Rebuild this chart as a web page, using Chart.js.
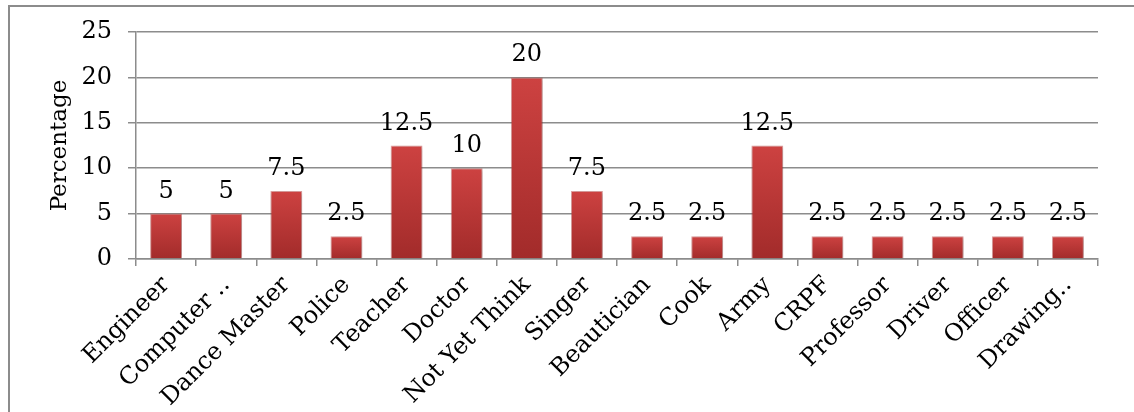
<!DOCTYPE html>
<html>
<head>
<meta charset="utf-8">
<script src="https://cdn.jsdelivr.net/npm/chart.js@4"></script>
<style>
  html, body { margin: 0; padding: 0; background: #fff; }
  #wrap { position: relative; width: 1134px; height: 412px; overflow: hidden; }
  #frame { position: absolute; left: 8px; top: 5px; width: 1200px; height: 500px;
           border: 2px solid #8c8c8c; box-sizing: border-box; }
  canvas { position: absolute; left: 0; top: 0; }
</style>
</head>
<body>
<div id="wrap">
  <div id="frame"></div>
  <canvas id="c" width="1134" height="412"></canvas>
</div>
<script>
// Aspirations, share of respondents (%)
const categories = ["Engineer", "Computer ..", "Dance Master", "Police", "Teacher", "Doctor",
  "Not Yet Think", "Singer", "Beautician", "Cook", "Army", "CRPF", "Professor", "Driver",
  "Officer", "Drawing.."];
const percentages = [5, 5, 7.5, 2.5, 12.5, 10, 20, 7.5, 2.5, 2.5, 12.5, 2.5, 2.5, 2.5, 2.5, 2.5];
const yTicks = [0, 5, 10, 15, 20, 25];

const FONT = "'DejaVu Serif', 'Liberation Serif', serif";

// Vertical red gradient per bar, lighter at the top
function barFill(context) {
  const chart = context.chart;
  const yScale = chart.scales.y;
  if (!chart.chartArea || !yScale) return '#b83535';
  const v = context.parsed ? context.parsed.y : percentages[context.dataIndex];
  const top = yScale.getPixelForValue(v);
  const bottom = yScale.getPixelForValue(0);
  if (!isFinite(top) || bottom - top < 1) return '#b83535';
  const g = chart.ctx.createLinearGradient(0, top, 0, bottom);
  g.addColorStop(0, '#cd4241');
  g.addColorStop(1, '#a22b2a');
  return g;
}

// Soft drop shadow under the bars
const barShadow = {
  id: 'barShadow',
  beforeDatasetsDraw(chart) {
    const ctx = chart.ctx;
    ctx.save();
    ctx.shadowColor = 'rgba(0,0,0,0.3)';
    ctx.shadowBlur = 4;
    ctx.shadowOffsetX = 1;
    ctx.shadowOffsetY = 1;
  },
  afterDatasetsDraw(chart) {
    chart.ctx.restore();
  }
};

// Value printed above every bar
const valueLabels = {
  id: 'valueLabels',
  afterDatasetsDraw(chart) {
    const ctx = chart.ctx;
    const meta = chart.getDatasetMeta(0);
    const data = chart.data.datasets[0].data;
    ctx.save();
    ctx.font = "24px " + FONT;
    ctx.fillStyle = '#000';
    ctx.textAlign = 'center';
    ctx.textBaseline = 'alphabetic';
    meta.data.forEach((bar, i) => {
      ctx.fillText(String(data[i]), bar.x, bar.y - 16);
    });
    ctx.restore();
  }
};

new Chart(document.getElementById('c'), {
  type: 'bar',
  data: {
    labels: categories,
    datasets: [{
      data: percentages,
      backgroundColor: barFill,
      borderColor: 'rgba(205,80,78,0.5)',
      borderWidth: 1,
      barPercentage: 0.53,
      categoryPercentage: 1
    }]
  },
  options: {
    responsive: false,
    animation: false,
    devicePixelRatio: 1,
    layout: { padding: { top: 32, right: 36, bottom: 0, left: 0 } },
    plugins: {
      legend: { display: false },
      tooltip: { enabled: false }
    },
    scales: {
      x: {
        offset: true,
        afterFit(scale) { scale.height = 153; },
        grid: {
          offset: true,
          drawOnChartArea: false,
          drawTicks: true,
          tickLength: 7,
          color: '#8c8c8c',
          lineWidth: 1.5
        },
        border: { display: true, color: '#8c8c8c', width: 1.5 },
        ticks: {
          autoSkip: false,
          minRotation: 45,
          maxRotation: 45,
          padding: 5,
          color: '#000',
          font: { family: FONT, size: 24 }
        }
      },
      y: {
        min: 0,
        max: 25,
        afterFit(scale) { scale.width = 136; },
        afterBuildTicks(scale) { scale.ticks = yTicks.map(v => ({ value: v })); },
        grid: {
          drawTicks: true,
          tickLength: 8,
          color: '#8c8c8c',
          lineWidth: 1.5
        },
        border: { display: true, color: '#8c8c8c', width: 1.5 },
        ticks: {
          padding: 16,
          color: '#000',
          font: { family: FONT, size: 24 }
        },
        title: {
          display: true,
          text: 'Percentage',
          color: '#000',
          font: { family: FONT, size: 23 },
          padding: { top: 46, bottom: 0 }
        }
      }
    }
  },
  plugins: [barShadow, valueLabels]
});
</script>
</body>
</html>
